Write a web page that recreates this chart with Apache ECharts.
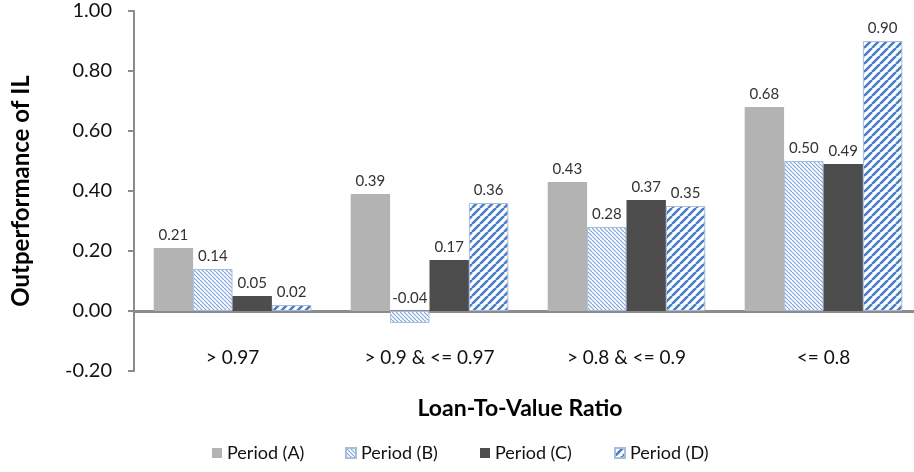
<!DOCTYPE html>
<html>
<head>
<meta charset="utf-8">
<script src="https://cdn.jsdelivr.net/npm/echarts@6/dist/echarts.min.js"></script>
<style>
html,body{margin:0;padding:0;background:#fff;}
#chart{width:914px;height:472px;}
</style>
</head>
<body>
<div id="chart"></div>
<script>
var categories = ['> 0.97', '> 0.9 & <= 0.97', '> 0.8 & <= 0.9', '<= 0.8'];
var seriesNames = ['Period (A)', 'Period (B)', 'Period (C)', 'Period (D)'];
var periodA = [0.21, 0.39, 0.43, 0.68];
var periodB = [0.14, -0.04, 0.28, 0.50];
var periodC = [0.05, 0.17, 0.37, 0.49];
var periodD = [0.02, 0.36, 0.35, 0.90];
var yTicks = { min: -0.2, max: 1.0, interval: 0.2 };

function makePattern(size, color, lw, dir) {
  var c = document.createElement('canvas');
  c.width = size; c.height = size;
  var ctx = c.getContext('2d');
  ctx.fillStyle = '#ffffff';
  ctx.fillRect(0, 0, size, size);
  ctx.strokeStyle = color;
  ctx.lineWidth = lw;
  for (var k = -1; k <= 1; k++) {
    ctx.beginPath();
    if (dir === '/') {
      ctx.moveTo(k * size, size);
      ctx.lineTo(k * size + size, 0);
    } else {
      ctx.moveTo(k * size, 0);
      ctx.lineTo(k * size + size, size);
    }
    ctx.stroke();
  }
  return { image: c, repeat: 'repeat' };
}
var patB = makePattern(4, '#7fa6dc', 1.2, '\\');
var patD = makePattern(8, '#4a7fc8', 2.6, '/');

var font = 'Lato, "Open Sans", sans-serif';
var chart = echarts.init(document.getElementById('chart'), null, { renderer: 'canvas' });

function labelCfg() {
  return { show: true, position: 'top', distance: 5, fontSize: 15, color: '#333', fontFamily: font,
    formatter: function (p) { return p.value.toFixed(2); } };
}

var styles = [
  { color: '#b3b3b3' },
  { color: patB, borderColor: '#a9bcd9', borderWidth: 1 },
  { color: '#4d4d4d' },
  { color: patD, borderColor: '#a9bcd9', borderWidth: 1 }
];
var datas = [periodA, periodB, periodC, periodD];
var legendLefts = [212, 345, 480, 614];

var series = datas.map(function (d, i) {
  return {
    name: seriesNames[i], type: 'bar', data: d,
    barGap: '0%', barCategoryGap: '20%',
    itemStyle: styles[i], label: labelCfg(),
    emphasis: { disabled: true }
  };
});

var legends = seriesNames.map(function (n, i) {
  return {
    data: [n], left: legendLefts[i], top: 444, itemWidth: 10, itemHeight: 10, itemGap: 5,
    icon: 'rect', padding: 0,
    textStyle: { fontSize: 18, color: '#111', fontFamily: font }
  };
});

chart.setOption({
  animation: false,
  backgroundColor: '#ffffff',
  grid: { left: 134, right: -8, top: 11, bottom: 101, containLabel: false, outerBoundsMode: 'none' },
  legend: legends,
  xAxis: {
    type: 'category', data: categories,
    axisLine: { onZero: true, lineStyle: { color: '#8c8c8c', width: 3 } },
    axisTick: { show: false },
    axisLabel: { margin: -23, fontSize: 19, color: '#111', fontFamily: font, interval: 0 },
    name: 'Loan-To-Value Ratio', nameLocation: 'middle', nameGap: 26,
    nameTextStyle: { fontSize: 23, fontWeight: 'bold', color: '#000', fontFamily: font, padding: [0, 16, 0, 0] }
  },
  yAxis: {
    type: 'value', min: yTicks.min, max: yTicks.max, interval: yTicks.interval,
    axisLine: { show: true, lineStyle: { color: '#8c8c8c', width: 2 } },
    axisTick: { show: true, length: 6, lineStyle: { color: '#8c8c8c', width: 2 } },
    splitLine: { show: false },
    axisLabel: { margin: 22, fontSize: 20, color: '#111', fontFamily: font,
      formatter: function (v) { return v.toFixed(2); } },
    name: 'Outperformance of IL', nameLocation: 'middle', nameGap: 101, nameRotate: 90,
    nameTextStyle: { fontSize: 24, fontWeight: 'bold', color: '#000', fontFamily: font }
  },
  series: series
});
</script>
</body>
</html>
